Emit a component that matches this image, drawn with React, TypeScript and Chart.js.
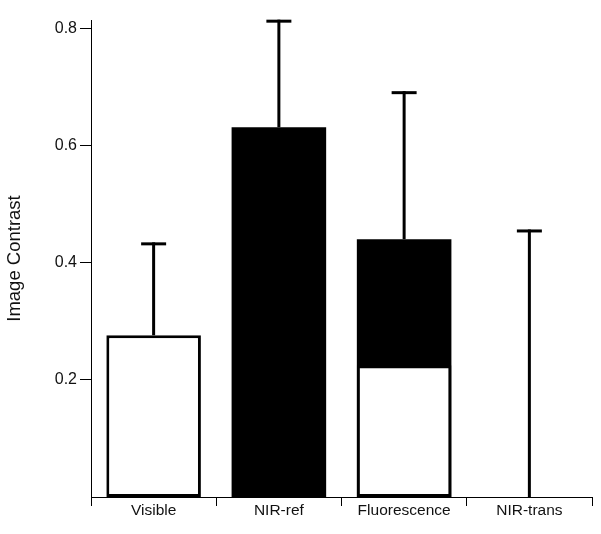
import React, { useEffect, useRef } from 'react';
import { Chart, registerables } from 'chart.js';

Chart.register(...registerables);

const CATEGORIES = ['Visible', 'NIR-ref', 'Fluorescence', 'NIR-trans'];
const WHITE_VALUES: (number | null)[] = [0.276, null, 0.225, null];
const BLACK_VALUES: (number | null)[] = [null, 0.631, 0.44, 0];
const ERROR_TOPS = [0.432, 0.812, 0.69, 0.454];
const Y_TICKS = [0.2, 0.4, 0.6, 0.8];
const Y_MIN = 0;
const Y_MAX = 0.814;
const Y_TITLE = 'Image Contrast';

const FONT = '"Liberation Sans", Arial, Helvetica, sans-serif';

const errorBarPlugin = {
  id: 'errorBars',
  afterDatasetsDraw(chart: any) {
    const { ctx, scales } = chart;
    const x = scales.x;
    const y = scales.y;
    ctx.save();
    ctx.strokeStyle = '#000';
    ctx.lineWidth = 3;
    ctx.lineCap = 'butt';
    ERROR_TOPS.forEach((top, i) => {
      const base = Math.max(WHITE_VALUES[i] ?? 0, BLACK_VALUES[i] ?? 0);
      const cx = x.getPixelForValue(i);
      const y0 = y.getPixelForValue(base);
      const y1 = y.getPixelForValue(top);
      ctx.beginPath();
      ctx.moveTo(cx, y0);
      ctx.lineTo(cx, y1 - 1.5);
      ctx.stroke();
      ctx.beginPath();
      ctx.moveTo(cx - 12.5, y1);
      ctx.lineTo(cx + 12.5, y1);
      ctx.stroke();
    });
    ctx.restore();
  },
};

export default function App() {
  const ref = useRef<HTMLCanvasElement>(null);

  useEffect(() => {
    document.body.style.margin = '0';
    const chart = new Chart(ref.current as HTMLCanvasElement, {
      type: 'bar',
      data: {
        labels: CATEGORIES,
        datasets: [
          {
            label: 'white',
            data: WHITE_VALUES,
            backgroundColor: '#ffffff',
            borderColor: '#000000',
            borderWidth: 3,
            borderSkipped: false,
            grouped: false,
            categoryPercentage: 1,
            barPercentage: 0.755,
          } as any,
          {
            label: 'black',
            data: BLACK_VALUES,
            backgroundColor: '#000000',
            borderColor: '#000000',
            borderWidth: 0,
            grouped: false,
            categoryPercentage: 1,
            barPercentage: 0.755,
          } as any,
        ],
      },
      options: {
        responsive: false,
        animation: false,
        layout: { padding: { left: 0, right: 9, top: 20, bottom: 0 } },
        plugins: {
          legend: { display: false },
          tooltip: { enabled: false },
        },
        scales: {
          x: {
            type: 'category',
            offset: true,
            grid: {
              display: true,
              offset: true,
              drawOnChartArea: false,
              drawTicks: true,
              tickLength: 9,
              color: '#000',
              lineWidth: 1,
            },
            border: { display: true, color: '#000', width: 1 },
            ticks: {
              color: '#111',
              font: { family: FONT, size: 15.5 },
              padding: -5,
              maxRotation: 0,
            },
            afterFit(scale: any) {
              scale.height = 37;
            },
          },
          y: {
            type: 'linear',
            min: Y_MIN,
            max: Y_MAX,
            grid: {
              display: true,
              drawOnChartArea: false,
              drawTicks: true,
              tickLength: 11,
              color: '#000',
              lineWidth: 1,
            },
            border: { display: true, color: '#000', width: 1 },
            ticks: {
              color: '#111',
              font: { family: FONT, size: 16 },
              padding: 3,
              callback: (v: any) => Number(v).toFixed(1),
            },
            afterBuildTicks(scale: any) {
              scale.ticks = Y_TICKS.map((v) => ({ value: v }));
            },
            title: {
              display: true,
              text: Y_TITLE,
              color: '#111',
              font: { family: FONT, size: 18.5 },
              padding: { top: 4, bottom: 0 },
            },
            afterFit(scale: any) {
              scale.width = 91;
            },
          },
        },
      },
      plugins: [errorBarPlugin],
    } as any);
    return () => chart.destroy();
  }, []);

  return (
    <div style={{ width: 601, height: 534 }}>
      <canvas ref={ref} width={601} height={534} style={{ display: 'block' }} />
    </div>
  );
}
